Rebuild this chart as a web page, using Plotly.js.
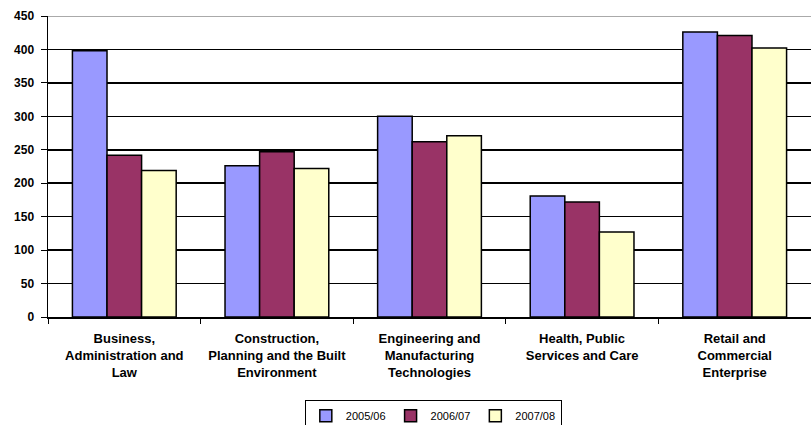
<!DOCTYPE html>
<html><head><meta charset="utf-8">
<script src="https://cdn.plot.ly/plotly-3.0.1.min.js"></script>
<style>body{margin:0;background:#fff}#c{width:811px;height:425px}</style>
</head><body><div id="c"></div>
<script>
const categories = ["Business,<br>Administration and<br>Law", "Construction,<br>Planning and the Built<br>Environment", "Engineering and<br>Manufacturing<br>Technologies", "Health, Public<br>Services and Care", "Retail and<br>Commercial<br>Enterprise"];
const series = ["2005/06", "2006/07", "2007/08"];
const v2005 = [398, 226, 300, 181, 426];
const v2006 = [242, 247, 262, 172, 421];
const v2007 = [219, 222, 271, 127, 402];
const yTicks = [0, 50, 100, 150, 200, 250, 300, 350, 400, 450];
const colors = ["#9999FF", "#993366", "#FFFFCC"];
const vals = [v2005, v2006, v2007];
const traces = series.map((s, i) => ({
  type: "bar", name: s, x: categories, y: vals[i],
  marker: {color: colors[i], line: {color: "#000", width: 1.5}}
}));
const layout = {
  width: 811, height: 425,
  margin: {l: 48, r: 0, t: 16, b: 108, autoexpand: false},
  paper_bgcolor: "#fff", plot_bgcolor: "#fff",
  font: {family: "Liberation Sans, Arial, sans-serif", size: 11, color: "#000"},
  barmode: "group", bargap: 0.32, bargroupgap: 0,
  showlegend: true,
  legend: {orientation: "h", xref: "paper", x: 0.505, xanchor: "center",
    yref: "container", y: 0.058, yanchor: "top",
    bordercolor: "#000", borderwidth: 1, font: {size: 11}, itemwidth: 30,
    tracegroupgap: 0, traceorder: "normal"},
  xaxis: {showline: true, linecolor: "#000", linewidth: 1.5, ticks: "outside", ticklen: 5,
    tickcolor: "#000", tickson: "boundaries", showgrid: false, fixedrange: true,
    ticklabelstandoff: 9, automargin: false,
    tickfont: {size: 13, weight: "bold"}},
  yaxis: {range: [0, 450], tickvals: yTicks, ticktext: yTicks.map(String),
    showline: true, linecolor: "#000", linewidth: 1.5, ticks: "outside", ticklen: 6, tickcolor: "#000",
    showgrid: true, gridcolor: "#000", gridwidth: 1.5, zeroline: false, fixedrange: true,
    ticklabelstandoff: 4, automargin: false,
    tickfont: {size: 12, weight: "bold"}},
  shapes: [{type: "line", xref: "paper", yref: "y", x0: 0, x1: 1, y0: 450, y1: 450,
    line: {color: "#aaaaaa", width: 2}, layer: "above"}]
};
Plotly.newPlot("c", traces, layout, {displayModeBar: false, staticPlot: true});
</script></body></html>
